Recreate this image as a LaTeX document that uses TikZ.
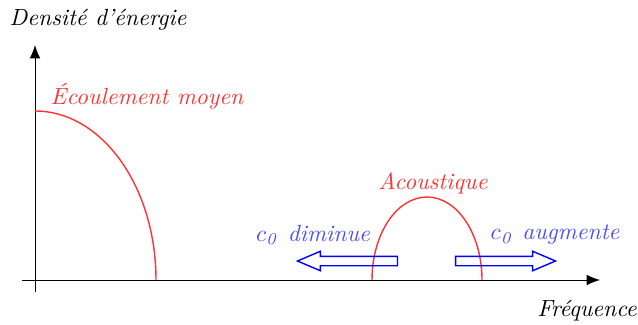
\documentclass[tikz,border=0pt]{standalone}
\usepackage{xcolor}
\usepackage{tikz}
\usetikzlibrary{shapes.arrows,arrows.meta}

\begin{document}
\begin{tikzpicture}[x=0.15mm,y=0.15mm,
    spectre/.style={red!80, semithick},
    fleche/.style={single arrow, draw=blue, semithick, inner xsep=0pt,
        inner ysep=0.06cm, minimum height=1.5cm,
        single arrow head extend=0.075cm, single arrow tip angle=46},
    axe/.style={-{Latex[length=2mm,width=1.6mm]}},
    etiquette/.style={font=\itshape}]
    \useasboundingbox (-35,-44) rectangle (603,280);

    % axes
    \coordinate (xdeb) at (-13,0);
    \coordinate (xfin) at (565,0);
    \coordinate (ydeb) at (0,-12);
    \coordinate (yfin) at (0,235);
    \draw[axe] (xdeb) -- (xfin);
    \draw[axe] (ydeb) -- (yfin);
    \node[etiquette] (ylab) at (63,260) {Densit\'e d'\'energie};
    \node[etiquette] (xlab) at (552,-31) {Fr\'equence};

    % ecoulement moyen
    \draw[spectre] (0,169) arc[start angle=90, end angle=0, x radius=121, y radius=169];
    \node[etiquette, red!80] (moyen) at (112,184) {\'Ecoulement moyen};

    % acoustique
    \draw[spectre] (337,0) arc[start angle=180, end angle=0, x radius=55, y radius=83];
    \node[etiquette, red!80] (acou) at (398,97) {Acoustique};

    % effet de c0
    \node[fleche, shape border rotate=180] (dim) at (318,19) {};
    \node[fleche] (aug) at (465,19) {};
    \node[etiquette, blue!70] (dimlab) at (278,45) {$c_{\mathit 0}$ diminue};
    \node[etiquette, blue!70] (auglab) at (520,45) {$c_{\mathit 0}$ augmente};
\end{tikzpicture}
\end{document}
